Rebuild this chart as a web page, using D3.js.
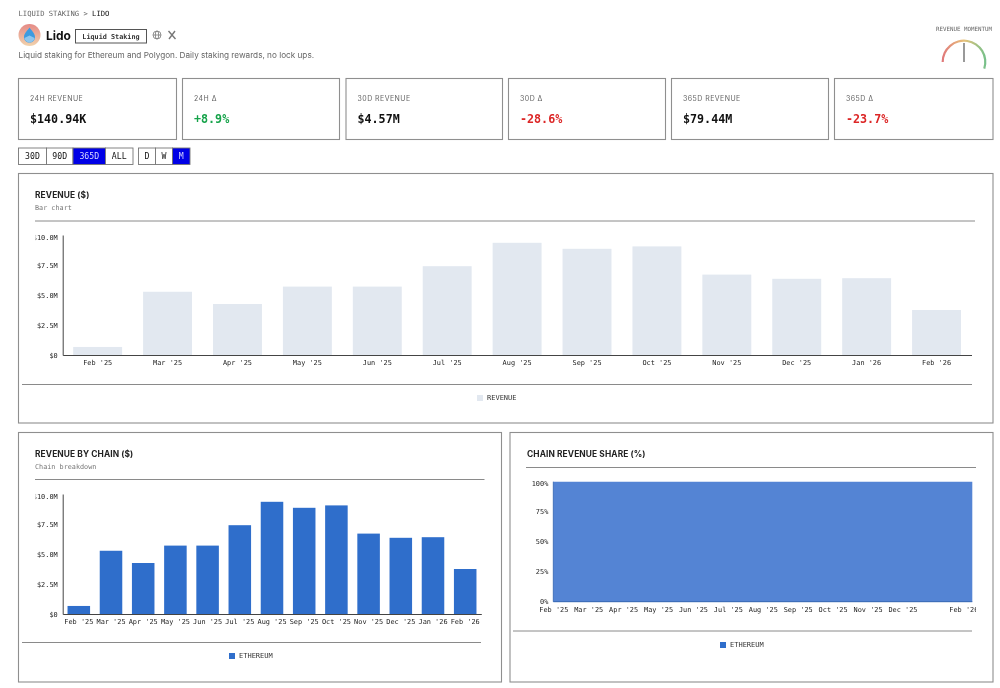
<!DOCTYPE html>
<html>

<head>
    <meta charset="utf-8">
    <style>
        html,
        body {
            margin: 0;
            background: white;
        }

        svg {
            display: block;
            will-change: transform;
        }

        text {
            font-family: 'DejaVu Sans Mono', monospace;
        }

        .sans {
            font-family: 'Inter', sans-serif;
        }

        .card {
            fill: white;
            stroke: #8f8f8f;
            stroke-width: 1.1;
        }

        .rule {
            stroke: #8a8a8a;
            stroke-width: 1;
        }

        .axis text {
            font-size: 6.9px;
            fill: #222;
        }

        .axis .domain {
            stroke: #444;
            stroke-width: 1;
        }

        .axis line {
            display: none;
        }
    </style>
    <script src="https://d3js.org/d3.v7.min.js"></script>
</head>

<body>
    <svg id="page" width="1000" height="688"></svg>

    <script>
        var months = ["Feb '25", "Mar '25", "Apr '25", "May '25", "Jun '25", "Jul '25", "Aug '25", "Sep '25", "Oct '25", "Nov '25", "Dec '25", "Jan '26", "Feb '26"];
        var revenue = [0.67, 5.27, 4.25, 5.7, 5.7, 7.4, 9.35, 8.85, 9.05, 6.7, 6.35, 6.4, 3.75]; // $M
        var ethereumShare = [100, 100, 100, 100, 100, 100, 100, 100, 100, 100, 100, 100, 100];
        var revenueTicks = [0, 2.5, 5, 7.5, 10];
        var shareTicks = [0, 25, 50, 75, 100];
        var shareMonthLabels = months.filter(function (d) { return d !== "Jan '26"; }); // Jan gets dropped in the original

        var statLabels = ['24H REVENUE', '24H Δ', '30D REVENUE', '30D Δ', '365D REVENUE', '365D Δ'];
        var statValues = ['$140.94K', '+8.9%', '$4.57M', '-28.6%', '$79.44M', '-23.7%'];
        var statColors = ['#111', '#16a34a', '#111', '#dc2626', '#111', '#dc2626'];
        var statLefts = [18.5, 182.5, 346, 508.5, 671.5, 834.5];
        var statRights = [176.5, 339.5, 502.5, 665.5, 828.5, 993];

        var rangeLabels = ['30D', '90D', '365D', 'ALL'];
        var rangeEdges = [18.5, 46.5, 73, 105.5, 133];
        var stepLabels = ['D', 'W', 'M'];
        var stepEdges = [138.5, 155.5, 172.5, 190];

        var svg = d3.select('#page');
        var defs = svg.append('defs');

        function addText(x, y, str, size, color, opts) {
            opts = opts || {};
            return svg.append('text')
                .attr('class', opts.sans ? 'sans' : null)
                .attr('x', x)
                .attr('y', y)
                .attr('font-size', size)
                .attr('font-weight', opts.weight || 400)
                .attr('letter-spacing', opts.spacing || 0)
                .attr('text-anchor', opts.anchor || 'start')
                .attr('fill', color)
                .text(str);
        }

        function addRule(x1, x2, y) {
            svg.append('line').attr('class', 'rule').attr('x1', x1).attr('x2', x2).attr('y1', y).attr('y2', y);
        }

        function addCard(x, y, w, h) {
            svg.append('rect').attr('class', 'card').attr('x', x).attr('y', y).attr('width', w).attr('height', h);
        }

        function addLegend(x, y, color, label) {
            svg.append('rect').attr('x', x).attr('y', y - 3).attr('width', 6).attr('height', 6).attr('fill', color);
            addText(x + 10, y + 2.3, label, 7, '#333');
        }

        // header
        var crumb = addText(18.5, 16, 'LIQUID STAKING > ', 7.2, '#666');
        crumb.append('tspan').attr('fill', '#111').text('LIDO');

        var logoGrad = defs.append('linearGradient').attr('id', 'logoGrad').attr('x1', 0).attr('y1', 0).attr('x2', 0).attr('y2', 1);
        logoGrad.append('stop').attr('offset', 0).attr('stop-color', '#e58a86');
        logoGrad.append('stop').attr('offset', 1).attr('stop-color', '#f0d2ad');
        svg.append('circle').attr('cx', 29.5).attr('cy', 35).attr('r', 11).attr('fill', 'url(#logoGrad)');
        svg.append('path')
            .attr('d', 'M29.5 27.5 C31 30 35 33 35 37 C35 40.5 32.5 42.5 29.5 42.5 C26.5 42.5 24 40.5 24 37 C24 33 28 30 29.5 27.5 Z')
            .attr('fill', '#3d9be0');
        svg.append('path')
            .attr('d', 'M24.4 38 L29.5 35.6 L34.6 38 C34 40.8 32 42.5 29.5 42.5 C27 42.5 25 40.8 24.4 38 Z')
            .attr('fill', '#8fc6ee');

        addText(46, 40, 'Lido', 12, '#111', { sans: true, weight: 700 });
        svg.append('rect').attr('x', 75.5).attr('y', 29.5).attr('width', 71).attr('height', 13.5)
            .attr('fill', 'white').attr('stroke', '#555').attr('stroke-width', 1);
        addText(111, 38.8, 'Liquid Staking', 6.8, '#333', { anchor: 'middle', weight: 700 });

        // globe + x icons
        var globe = svg.append('g').attr('fill', 'none').attr('stroke', '#777').attr('stroke-width', 0.8);
        globe.append('circle').attr('cx', 157).attr('cy', 35).attr('r', 4);
        globe.append('ellipse').attr('cx', 157).attr('cy', 35).attr('rx', 1.7).attr('ry', 4);
        globe.append('line').attr('x1', 153).attr('x2', 161).attr('y1', 35).attr('y2', 35);
        svg.append('path').attr('d', 'M168.5 31 L175.5 39 M175 31 L169 39')
            .attr('stroke', '#777').attr('stroke-width', 1.4).attr('fill', 'none');

        addText(18.5, 58, 'Liquid staking for Ethereum and Polygon. Daily staking rewards, no lock ups.', 8.2, '#666', { sans: true });

        // gauge
        addText(964, 30.5, 'REVENUE MOMENTUM', 5.8, '#666', { anchor: 'middle' });
        // gradient coords are in the translated space of the arc
        var gaugeGrad = defs.append('linearGradient').attr('id', 'gaugeGrad').attr('gradientUnits', 'userSpaceOnUse')
            .attr('x1', -22).attr('x2', 22).attr('y1', 0).attr('y2', 0);
        gaugeGrad.append('stop').attr('offset', 0).attr('stop-color', '#e0777a');
        gaugeGrad.append('stop').attr('offset', 0.5).attr('stop-color', '#e8c27a');
        gaugeGrad.append('stop').attr('offset', 1).attr('stop-color', '#74c08a');
        var gaugeArc = d3.arc().innerRadius(20.2).outerRadius(22.4).startAngle(-Math.PI / 2).endAngle(Math.PI * 0.6);
        svg.append('path').attr('transform', 'translate(964,62)').attr('d', gaugeArc()).attr('fill', 'url(#gaugeGrad)');
        svg.append('line').attr('x1', 964).attr('x2', 964).attr('y1', 43).attr('y2', 62)
            .attr('stroke', '#555').attr('stroke-width', 1.2);

        // stat cards
        statLabels.forEach(function (label, i) {
            addCard(statLefts[i], 78.5, statRights[i] - statLefts[i], 61);
            addText(statLefts[i] + 11.5, 101, label, 7, '#666', { sans: true, spacing: 0.45 });
            addText(statLefts[i] + 11.5, 123, statValues[i], 11.7, statColors[i], { weight: 700 });
        });

        // toggle groups
        function addToggles(labels, edges, active) {
            labels.forEach(function (label, i) {
                var on = label === active;
                svg.append('rect').attr('x', edges[i]).attr('y', 148).attr('width', edges[i + 1] - edges[i]).attr('height', 16.5)
                    .attr('fill', on ? '#0000e6' : 'white').attr('stroke', '#777').attr('stroke-width', 0.9);
                addText((edges[i] + edges[i + 1]) / 2, 159, label, 8.2, on ? '#d8d8ff' : '#111', { anchor: 'middle' });
            });
        }
        addToggles(rangeLabels, rangeEdges, '365D');
        addToggles(stepLabels, stepEdges, 'M');

        // top label sits a bit under its tick, the y axis keeps it inside the plot
        function nudgeEnds(g) {
            g.selectAll('.tick text').filter(function (d, i, nodes) { return i === nodes.length - 1; })
                .attr('dy', '0.32em')
                .attr('transform', 'translate(0,2)');
        }

        // bar charts, the left labels get cut off by the plot margin like the original
        function barChart(id, x0, x1, yTop, yBottom, clipLeft, color) {
            var x = d3.scaleBand().domain(months).range([x0, x1]).paddingInner(0.3).paddingOuter(0.15);
            var y = d3.scaleLinear().domain([0, 10]).range([yBottom, yTop]);

            defs.append('clipPath').attr('id', id)
                .append('rect').attr('x', clipLeft).attr('y', yTop - 10).attr('width', x1 - clipLeft + 20).attr('height', yBottom - yTop + 40);

            var g = svg.append('g').attr('clip-path', 'url(#' + id + ')');

            g.append('g').selectAll('rect')
                .data(revenue)
                .enter()
                .append('rect')
                .attr('x', function (d, i) { return x(months[i]); })
                .attr('width', x.bandwidth())
                .attr('y', function (d) { return y(d); })
                .attr('height', function (d) { return yBottom - y(d); })
                .attr('fill', color);

            g.append('g').attr('class', 'axis')
                .attr('transform', 'translate(' + x0 + ',0)')
                .call(d3.axisLeft(y).tickValues(revenueTicks).tickSize(0).tickPadding(5)
                    .tickFormat(function (d) { return d === 0 ? '$0' : '$' + d.toFixed(1) + 'M'; }))
                .call(nudgeEnds);

            g.append('g').attr('class', 'axis')
                .attr('transform', 'translate(0,' + yBottom + ')')
                .call(d3.axisBottom(x).tickSize(0).tickPadding(5));
        }

        // revenue card
        addCard(18.5, 173.5, 974.5, 249.5);
        addText(35, 198, 'REVENUE ($)', 8.4, '#222', { sans: true, weight: 700, spacing: 0.1 });
        addText(35, 209.5, 'Bar chart', 6.8, '#777');
        addRule(35, 975, 221);
        barChart('clipRevenue', 62.7, 971.5, 235, 355, 35.5, '#e2e8f0');
        addRule(22, 972, 384.5);
        addLegend(477, 398, '#e2e8f0', 'REVENUE');

        // chain card
        addCard(18.5, 432.5, 483, 249.5);
        addText(35, 457, 'REVENUE BY CHAIN ($)', 8.4, '#222', { sans: true, weight: 700, spacing: 0.1 });
        addText(35, 468.5, 'Chain breakdown', 6.8, '#777');
        addRule(35, 484.5, 479.5);
        barChart('clipChain', 62.7, 481.3, 494, 614, 35.5, '#2f6ecb');
        addRule(22, 481, 642.5);
        addLegend(229, 656, '#2f6ecb', 'ETHEREUM');

        // share card
        addCard(510, 432.5, 483, 249.5);
        addText(527, 457, 'CHAIN REVENUE SHARE (%)', 8.4, '#222', { sans: true, weight: 700, spacing: 0.1 });
        addRule(526, 976, 467.5);

        var shareX = d3.scalePoint().domain(months).range([553.3, 972.3]);
        var shareY = d3.scaleLinear().domain([0, 100]).range([601.7, 481.7]);
        var shareArea = d3.area()
            .x(function (d, i) { return shareX(months[i]); })
            .y0(shareY(0))
            .y1(function (d) { return shareY(d); });

        svg.append('path').datum(ethereumShare).attr('d', shareArea).attr('fill', '#5484d4');
        svg.append('line').attr('x1', shareX.range()[0]).attr('x2', shareX.range()[1]).attr('y1', shareY(0)).attr('y2', shareY(0))
            .attr('stroke', '#2f62b0').attr('stroke-width', 1);
        svg.append('line').attr('x1', shareX.range()[0]).attr('x2', shareX.range()[0]).attr('y1', shareY(0)).attr('y2', shareY(100))
            .attr('stroke', '#2f62b0').attr('stroke-width', 0.8);

        defs.append('clipPath').attr('id', 'clipShare')
            .append('rect').attr('x', 520).attr('y', 470).attr('width', 456).attr('height', 160);
        var shareAxes = svg.append('g').attr('clip-path', 'url(#clipShare)');

        shareAxes.append('g').attr('class', 'axis')
            .attr('transform', 'translate(553.3,0)')
            .call(d3.axisLeft(shareY).tickValues(shareTicks).tickSize(0).tickPadding(5)
                .tickFormat(function (d) { return d + '%'; }))
            .call(nudgeEnds)
            .call(function (g) { g.select('.domain').remove(); });

        shareAxes.append('g').attr('class', 'axis')
            .attr('transform', 'translate(0,601.7)')
            .call(d3.axisBottom(shareX).tickValues(shareMonthLabels).tickSize(0).tickPadding(5))
            .call(function (g) {
                g.select('.domain').remove();
                // last label is pushed in from the plot edge, then cut by the card margin
                g.selectAll('.tick text').filter(function (d) { return d === "Feb '26"; }).attr('dx', -9);
            });

        addRule(513, 972, 631);
        addLegend(720, 645, '#2f6ecb', 'ETHEREUM');
    </script>
</body>

</html>
